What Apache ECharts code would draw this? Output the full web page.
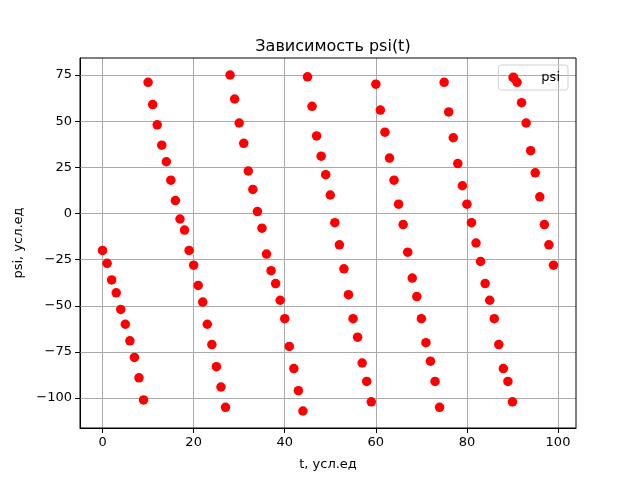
<!DOCTYPE html>
<html>
<head>
<meta charset="utf-8">
<script src="https://cdn.jsdelivr.net/npm/echarts@6/dist/echarts.min.js"></script>
<style>html,body{margin:0;padding:0;background:#fff}#chart{width:640px;height:480px}</style>
</head>
<body>
<div id="chart"></div>
<script>
// psi values for t = 0..99
const psi = [
  -20, -27, -36, -43, -52, -60, -69, -78, -89, -101,
  71, 59, 48, 37, 28, 18, 7, -3, -9, -20, -28, -39, -48, -60, -71, -83, -94, -105,
  75, 62, 49, 38, 23, 13, 1, -8, -22, -31, -38, -47, -57, -72, -84, -96, -107,
  74, 58, 42, 31, 21, 10, -5, -17, -30, -44, -57, -67, -81, -91, -102,
  70, 56, 44, 30, 18, 5, -6, -21, -35, -45, -57, -70, -80, -91, -105,
  71, 55, 41, 27, 15, 5, -5, -16, -26, -38, -47, -57, -71, -84, -91, -102,
  71, 60, 49, 34, 22, 9, -6, -17, -28
];
const xTicks = [0, 20, 40, 60, 80, 100];
const yTicks = [-100, -75, -50, -25, 0, 25, 50, 75];

const points = psi.map((v, i) => [i, v]);
const font = 'DejaVu Sans';
const gridStyle = { color: '#aaaaaa', width: 1, type: 'solid' };

const gridLines = xTicks.map(v => ({ xAxis: v }))
  .concat(yTicks.map(v => ({ yAxis: v })));

const chart = echarts.init(document.getElementById('chart'));
chart.setOption({
  animation: false,
  title: {
    text: 'Зависимость psi(t)', left: 328, top: 34, textAlign: 'center',
    textStyle: { fontFamily: font, fontSize: 16, fontWeight: 'normal', color: '#000' }
  },
  legend: {
    right: 72, top: 65, orient: 'vertical',
    itemWidth: 10, itemHeight: 10, itemGap: 4, padding: [6, 8, 6, 10],
    borderColor: '#d0d0d0', borderWidth: 1, borderRadius: 3,
    textStyle: { fontFamily: font, fontSize: 13, color: '#000', padding: [0, 0, 0, 18] },
    data: [{ name: 'psi', icon: 'circle' }]
  },
  grid: { left: 80, right: 64, top: 58, bottom: 52 },
  xAxis: {
    type: 'value', min: -4.95, max: 103.95,
    name: 't, усл.ед', nameLocation: 'middle', nameGap: 30,
    nameTextStyle: { fontFamily: font, fontSize: 13, color: '#000' },
    axisLine: { show: true, onZero: false, lineStyle: { color: '#000', width: 1 } },
    axisTick: { show: true, customValues: xTicks, length: 5, lineStyle: { color: '#000' } },
    axisLabel: { customValues: xTicks, fontFamily: font, fontSize: 13, color: '#000', margin: 8 },
    splitLine: { show: false }
  },
  yAxis: {
    type: 'value', min: -116.2, max: 84.2,
    name: 'psi, усл.ед', nameLocation: 'middle', nameGap: 52,
    nameTextStyle: { fontFamily: font, fontSize: 13, color: '#000' },
    axisLine: { show: true, onZero: false, lineStyle: { color: '#000', width: 1 } },
    axisTick: { show: true, customValues: yTicks, length: 5, lineStyle: { color: '#000' } },
    axisLabel: { customValues: yTicks, fontFamily: font, fontSize: 13, color: '#000', margin: 8,
      formatter: v => (v < 0 ? '\u2212' + (-v) : '' + v) },
    splitLine: { show: false }
  },
  series: [{
    name: 'psi', type: 'scatter', data: points, symbolSize: 9.5,
    itemStyle: { color: '#ff0000', opacity: 1 },
    markLine: {
      silent: true, symbol: 'none', label: { show: false }, z: 1,
      lineStyle: gridStyle, animation: false, data: gridLines
    },
    z: 3
  }],
  graphic: [{
    type: 'rect', shape: { x: 80, y: 58, width: 496, height: 370 }, silent: true, z: 10,
    style: { fill: 'none', stroke: '#000', lineWidth: 1 }
  }]
});
</script>
</body>
</html>
